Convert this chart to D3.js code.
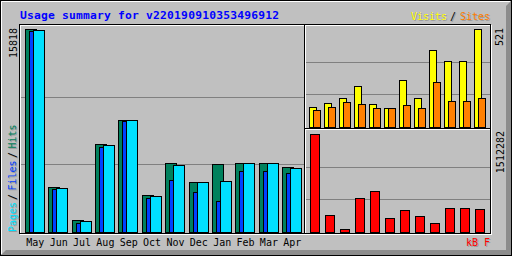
<!DOCTYPE html>
<html>
<head>
<meta charset="utf-8">
<script src="https://cdn.jsdelivr.net/npm/d3@7"></script>
<style>
  body { margin: 0; background: #fff; }
  svg { display: block; }
  text { font-family: "DejaVu Sans Mono", monospace; }
</style>
</head>
<body>
<div id="chart"></div>
<script>
/* chart data */
const months = ["May", "Jun", "Jul", "Aug", "Sep", "Oct", "Nov", "Dec", "Jan", "Feb", "Mar", "Apr"];
const hits   = [15818, 3507, 935, 6857, 8727, 2883, 5377, 3896, 5299, 5377, 5377, 5065];
const files  = [15662, 3351, 701, 6623, 8650, 2649, 4052, 3117, 2416, 4753, 4753, 4597];
const pages  = [15760, 3428, 857, 6779, 8720, 2805, 5221, 3896, 3974, 5377, 5377, 4987];
const visits = [106, 128, 154, 218, 122, 101, 250, 154, 409, 351, 351, 521];
const sites  = [92, 106, 133, 122, 101, 101, 117, 101, 239, 138, 138, 154];
const kbytes = [1512282, 267000, 46300, 524700, 632700, 216000, 339500, 246900, 138900, 370400, 370400, 354900];
const gridFractions = [1 / 3, 2 / 3];
const title = "Usage summary for v220190910353496912";

/* colours */
const BG = "#c0c0c0", DKGREY = "#808080";
const HITCOLOR = "#00805c", FILECOLOR = "#0040ff", PAGECOLOR = "#00e0ff";
const VISITCOLOR = "#ffff00", SITECOLOR = "#ff8000", KBYTECOLOR = "#ff0000";

const width = 512, height = 256;

const svg = d3.select("#chart").append("svg")
  .attr("width", width)
  .attr("height", height);

/* background + outer bevel */
svg.append("rect").attr("width", width).attr("height", height).attr("fill", BG);
svg.append("path").attr("d", "M511,1 L511,255 L1,255 L6,250 L506,250 L506,6 Z").attr("fill", "#8c8c8c");
svg.append("path").attr("d", "M1.5,254 L1.5,1.5 L510,1.5").attr("fill", "none").attr("stroke", "#fff");
svg.append("rect").attr("x", 0.5).attr("y", 0.5).attr("width", 511).attr("height", 255)
  .attr("fill", "none").attr("stroke", "#000");

/* etched panel frames */
const panels = [[19, 24, 304, 233], [304, 24, 490, 128], [304, 128, 490, 233]];
panels.forEach(p => {
  svg.append("rect").attr("x", p[0] + 1.5).attr("y", p[1] + 1.5)
    .attr("width", p[2] - p[0]).attr("height", p[3] - p[1])
    .attr("fill", "none").attr("stroke", "#fff");
});
panels.forEach(p => {
  svg.append("rect").attr("x", p[0] + 0.5).attr("y", p[1] + 0.5)
    .attr("width", p[2] - p[0]).attr("height", p[3] - p[1])
    .attr("fill", "none").attr("stroke", "#000");
});

/* scales */
const xMain = d3.scaleBand().domain(months).range([25, 25 + 12 * 23.36]);
const yMain = d3.scaleLinear().domain([0, d3.max(hits)]).range([232, 29]);
const xSmall = d3.scaleBand().domain(months).range([309.3, 309.3 + 12 * 15]);
const yVisits = d3.scaleLinear().domain([0, d3.max(visits)]).range([127, 29]);
const yKbytes = d3.scaleLinear().domain([0, d3.max(kbytes)]).range([232, 134]);

/* grid lines */
const grid = (scale, x1, x2) => {
  gridFractions.forEach(f => {
    const y = Math.round(scale(scale.domain()[1] * f)) + 0.5;
    svg.append("line").attr("x1", x1).attr("x2", x2).attr("y1", y).attr("y2", y)
      .attr("stroke", DKGREY);
  });
};
grid(yMain, 21, 304);
grid(yVisits, 306, 490);
grid(yKbytes, 306, 490);

/* bars */
const drawBars = (data, xs, ys, offset, w, base, color) => {
  svg.append("g").selectAll("rect")
    .data(data)
    .enter()
    .append("rect")
    .attr("x", (d, i) => Math.round(xs(months[i]) + offset) + 0.5)
    .attr("y", d => Math.round(ys(d)) + 0.5)
    .attr("width", w)
    .attr("height", d => base - Math.round(ys(d)))
    .attr("fill", color)
    .attr("stroke", "#000");
};
drawBars(hits, xMain, yMain, 0, 11, 232, HITCOLOR);
drawBars(files, xMain, yMain, 4, 11, 232, FILECOLOR);
drawBars(pages, xMain, yMain, 8, 11, 232, PAGECOLOR);
drawBars(visits, xSmall, yVisits, 0, 7, 127, VISITCOLOR);
drawBars(sites, xSmall, yVisits, 4, 7, 127, SITECOLOR);
drawBars(kbytes, xSmall, yKbytes, 1, 9, 232, KBYTECOLOR);

/* month labels */
svg.append("g").selectAll("text")
  .data(months)
  .enter()
  .append("text")
  .attr("x", d => xMain(d) + 10.3)
  .attr("y", 246)
  .attr("text-anchor", "middle")
  .attr("font-size", 10)
  .attr("fill", "#000")
  .text(d => d);

/* title */
svg.append("text")
  .attr("x", 20).attr("y", 19)
  .attr("font-size", 11.3)
  .attr("font-weight", "bold")
  .attr("fill", "#0000ff")
  .attr("textLength", 259)
  .text(title);

/* legend text with a light drop shadow */
const label = (str, x, y, color, rotate) => {
  [[1, 1, "#9a9a9a"], [0, 0, color]].forEach(s => {
    const t = svg.append("text")
      .attr("font-size", 10)
      .attr("fill", s[2])
      .text(str);
    if (rotate) t.attr("transform", "translate(" + (x + s[0]) + "," + (y + s[1]) + ") rotate(-90)");
    else t.attr("x", x + s[0]).attr("y", y + s[1]);
  });
};
label("Visits", 411, 20, VISITCOLOR, false);
label("/", 450, 20, "#000", false);
label("Sites", 460, 20, SITECOLOR, false);
label("kB F", 466, 246, KBYTECOLOR, false);
label("Pages", 16, 232, PAGECOLOR, true);
label("/", 16, 200, "#000", true);
label("Files", 16, 190.5, FILECOLOR, true);
label("/", 16, 158, "#000", true);
label("Hits", 16, 148.5, HITCOLOR, true);

/* max value labels */
const maxLabel = (str, x, y) => {
  svg.append("text")
    .attr("transform", "translate(" + x + "," + y + ") rotate(-90)")
    .attr("text-anchor", "end")
    .attr("font-size", 10)
    .attr("fill", "#000")
    .text(str);
};
maxLabel(d3.max(hits), 17, 28);
maxLabel(d3.max(visits), 503, 28);
maxLabel(d3.max(kbytes), 504, 131);
</script>
</body>
</html>
